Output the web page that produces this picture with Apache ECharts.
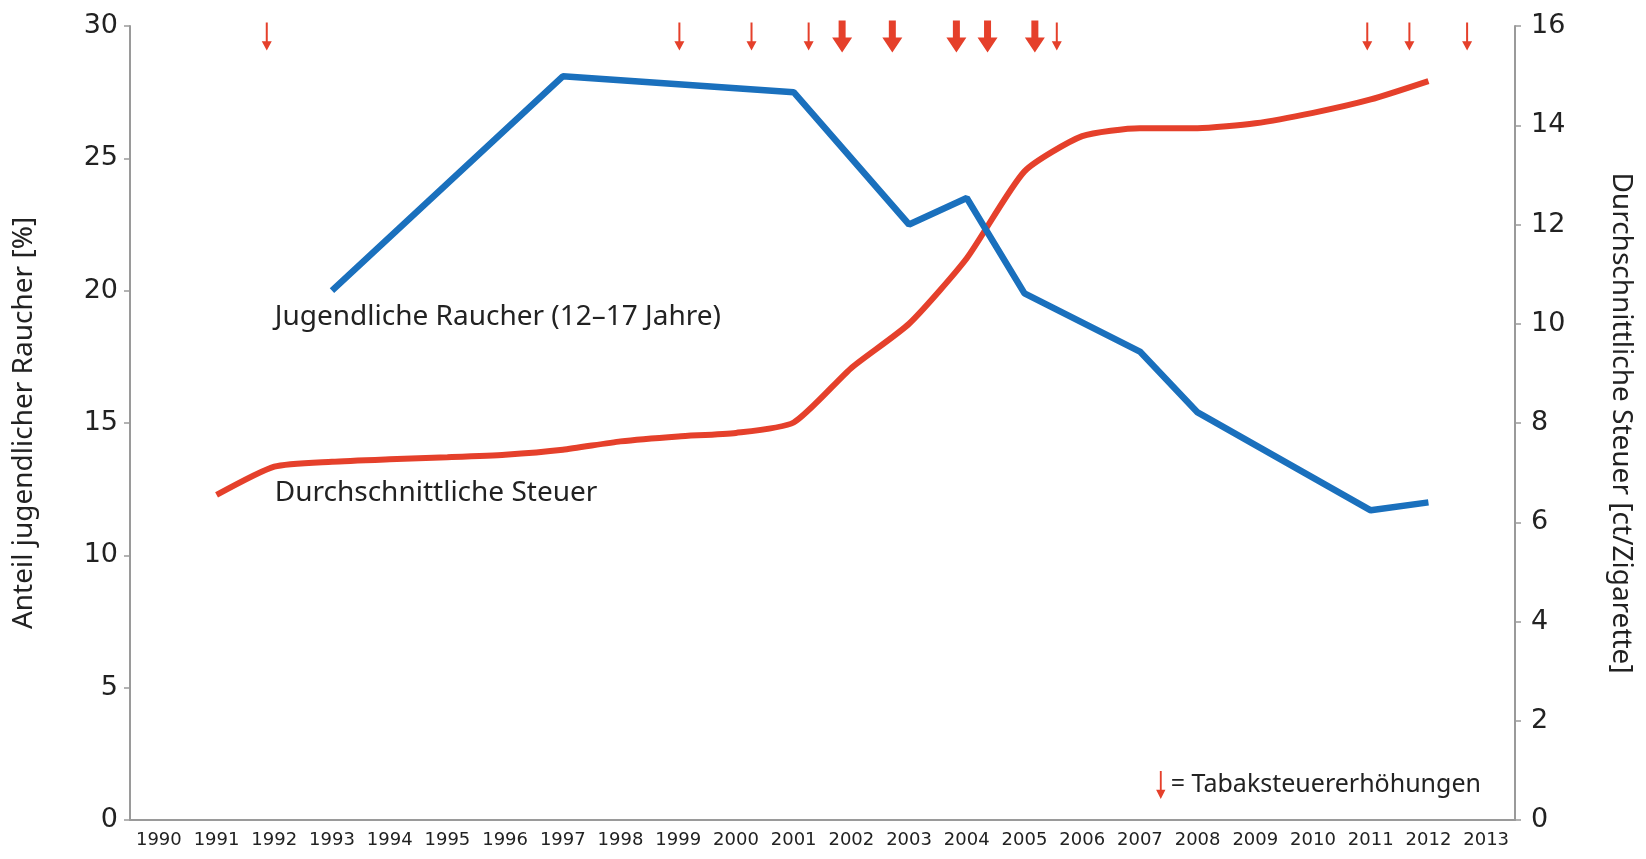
<!DOCTYPE html>
<html>

<head>
    <meta charset="utf-8">
    <title>Tabaksteuer</title>
    <script src="https://cdn.jsdelivr.net/npm/echarts@6/dist/echarts.min.js"></script>
    <style>
        html, body { margin: 0; padding: 0; background: #fff; }
    </style>
</head>

<body>
    <div id="main" style="width: 1646px;height: 859px;"></div>
    <script type="text/javascript">
    // years on the x axis
    var years = ['1990', '1991', '1992', '1993', '1994', '1995', '1996', '1997', '1998', '1999', '2000', '2001',
        '2002', '2003', '2004', '2005', '2006', '2007', '2008', '2009', '2010', '2011', '2012', '2013'];
    // Anteil jugendlicher Raucher [%] (left axis), null = no survey that year
    var raucher = [null, null, null, 20.0, null, null, null, 28.1, null, null, null, 27.5,
        null, 22.5, 23.5, 19.9, null, 17.7, 15.4, null, null, 11.7, 12.0, null];
    // Durchschnittliche Steuer [ct/Zigarette] (right axis)
    var steuer = [null, 6.55, 7.12, 7.22, 7.27, 7.31, 7.36, 7.46, 7.63, 7.73, 7.80, 8.01,
        9.11, 10.0, 11.32, 13.07, 13.78, 13.94, 13.94, 14.04, 14.25, 14.52, 14.89, null];
    // Tabaksteuererhöhungen (position in years), small and big arrows
    var erhoehungKlein = [1991.87, 1999.02, 2000.27, 2001.26, 2005.56, 2010.94, 2011.67, 2012.67];
    var erhoehungGross = [2001.84, 2002.71, 2003.82, 2004.36, 2005.18];

    var red = '#e5402b';
    var blue = '#1a70bd';
    var axisGray = '#9a9a9a';
    var smallArrow = 'path://M4,0 L6,0 L6,20 L10,20 L5,30 L0,20 L4,20 Z';
    var bigArrow = 'path://M6.5,0 L13.5,0 L13.5,17 L20,17 L10,32 L0,17 L6.5,17 Z';

    var myChart = echarts.init(document.getElementById('main'));
    var option = {
        backgroundColor: '#fff',
        textStyle: { fontFamily: 'Noto Sans' },
        grid: { left: 130, right: 131, top: 26, bottom: 39 },
        legend: {
            right: 160,
            top: 766,
            itemWidth: 10,
            itemHeight: 28,
            itemGap: 4,
            data: ['Tabaksteuererhöhungen'],
            formatter: '= {name}',
            itemStyle: { opacity: 1 },
            textStyle: { fontSize: 25, color: '#222', fontFamily: 'Noto Sans' }
        },
        xAxis: [
            {
                type: 'category',
                data: years,
                boundaryGap: true,
                axisLine: { lineStyle: { color: axisGray, width: 2 } },
                axisTick: { length: 6, lineStyle: { color: axisGray, width: 1.5 } },
                axisLabel: {
                    color: '#222', fontSize: 18, margin: 11, interval: 0, hideOverlap: false,
                    fontFamily: 'DejaVu Sans'
                },
                splitLine: { show: false }
            },
            {
                type: 'value',
                min: 1989.5,
                max: 2013.5,
                show: false
            }
        ],
        yAxis: [
            {
                type: 'value',
                min: 0,
                max: 30,
                interval: 5,
                name: 'Anteil jugendlicher Raucher [%]',
                nameLocation: 'middle',
                nameGap: 92,
                nameRotate: 90,
                nameTextStyle: { fontSize: 28, color: '#222', fontFamily: 'Noto Sans' },
                axisLine: { show: true, lineStyle: { color: axisGray, width: 2 } },
                axisTick: { show: true, length: 6, lineStyle: { color: axisGray, width: 1.5 } },
                axisLabel: { color: '#222', fontSize: 27, margin: 12, fontFamily: 'DejaVu Sans' },
                splitLine: { show: false }
            },
            {
                type: 'value',
                min: 0,
                max: 16,
                interval: 2,
                position: 'right',
                name: 'Durchschnittliche Steuer [ct/Zigarette]',
                nameLocation: 'middle',
                nameGap: 92,
                nameRotate: -90,
                nameTextStyle: { fontSize: 28, color: '#222', fontFamily: 'Noto Sans' },
                axisLine: { show: true, lineStyle: { color: axisGray, width: 2 } },
                axisTick: { show: true, length: 6, lineStyle: { color: axisGray, width: 1.5 } },
                axisLabel: { color: '#222', fontSize: 27, margin: 16, fontFamily: 'DejaVu Sans' },
                splitLine: { show: false }
            }
        ],
        series: [
            {
                name: 'Durchschnittliche Steuer',
                type: 'line',
                yAxisIndex: 1,
                data: steuer,
                smooth: 0.2,
                showSymbol: false,
                lineStyle: { color: red, width: 6 },
                itemStyle: { color: red },
                markPoint: {
                    symbol: 'circle',
                    symbolSize: 1,
                    itemStyle: { color: 'rgba(0,0,0,0)' },
                    label: {
                        show: true,
                        position: 'right',
                        distance: 0,
                        formatter: 'Durchschnittliche Steuer',
                        fontSize: 28,
                        color: '#222',
                        fontFamily: 'Noto Sans'
                    },
                    data: [{ coord: ['1992', 6.59] }]
                }
            },
            {
                name: 'Jugendliche Raucher (12–17 Jahre)',
                type: 'line',
                data: raucher,
                connectNulls: true,
                showSymbol: false,
                lineStyle: { color: blue, width: 6.5 },
                itemStyle: { color: blue },
                markPoint: {
                    symbol: 'circle',
                    symbolSize: 1,
                    itemStyle: { color: 'rgba(0,0,0,0)' },
                    label: {
                        show: true,
                        position: 'right',
                        distance: 0,
                        formatter: 'Jugendliche Raucher (12–17 Jahre)',
                        fontSize: 28,
                        color: '#222',
                        fontFamily: 'Noto Sans'
                    },
                    data: [{ coord: ['1992', 19.0] }]
                }
            },
            {
                name: 'Tabaksteuererhöhungen',
                type: 'scatter',
                xAxisIndex: 1,
                symbol: smallArrow,
                symbolSize: [10, 28],
                itemStyle: { color: red, opacity: 1 },
                data: erhoehungKlein.map(function (x) { return [x, 29.6]; })
            },
            {
                name: 'Tabaksteuererhöhungen groß',
                type: 'scatter',
                xAxisIndex: 1,
                symbol: bigArrow,
                symbolSize: [20, 32],
                itemStyle: { color: red, opacity: 1 },
                data: erhoehungGross.map(function (x) { return [x, 29.6]; })
            }
        ]
    };
    myChart.setOption(option);
    </script>
</body>

</html>
